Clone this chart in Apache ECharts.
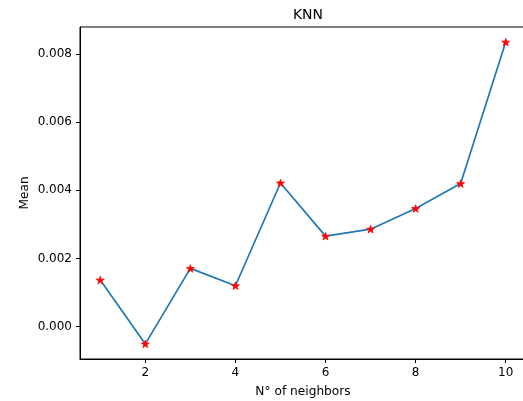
<!DOCTYPE html>
<html>
<head>
<meta charset="utf-8">
<script src="https://cdn.jsdelivr.net/npm/echarts@6/dist/echarts.min.js"></script>
<style>html,body{margin:0;padding:0;background:#fff;overflow:hidden;}#c{width:530px;height:401px;}</style>
</head>
<body>
<div id="c"></div>
<script>
const neighbors = [1, 2, 3, 4, 5, 6, 7, 8, 9, 10];
const meanValues = [0.001367, -0.000506, 0.001709, 0.0012, 0.004214, 0.002654, 0.002859, 0.003465, 0.004196, 0.008346];
const xTicks = [2, 4, 6, 8, 10];
const yTicks = [0, 0.002, 0.004, 0.006, 0.008];
const titleText = 'KNN';
const xLabel = 'N° of neighbors';
const yLabel = 'Mean';

const xMin = 0.55, xMax = 10.45;
const yMin = -0.000949, yMax = 0.008789;

const starPath = 'path://M0,-1 L0.2245,-0.309 L0.951,-0.309 L0.3633,0.118 L0.5878,0.809 L0,0.382 L-0.5878,0.809 L-0.3633,0.118 L-0.951,-0.309 L-0.2245,-0.309 Z';
const font = 'DejaVu Sans';

const chart = echarts.init(document.getElementById('c'), null, {renderer: 'canvas'});
chart.setOption({
  animation: false,
  backgroundColor: '#fff',
  title: {
    text: titleText, left: 303, top: 3, textAlign: 'center',
    textStyle: {fontFamily: font, fontSize: 14, fontWeight: 'normal', color: '#000'}
  },
  grid: {left: 80, top: 27, width: 446, height: 332, outerBoundsMode: 'none', show: true, borderColor: '#000', borderWidth: 1, backgroundColor: 'transparent'},
  xAxis: {
    type: 'value', min: xMin, max: xMax,
    name: xLabel, nameLocation: 'middle', nameGap: 27, nameMoveOverlap: false,
    nameTextStyle: {fontFamily: font, fontSize: 12.2, color: '#000'},
    axisLine: {show: true, onZero: false, lineStyle: {color: '#000', width: 1}},
    axisTick: {show: true, length: 4, customValues: xTicks, lineStyle: {color: '#000'}},
    axisLabel: {customValues: xTicks, margin: 8, fontFamily: font, fontSize: 12, color: '#000', formatter: v => String(v)},
    splitLine: {show: false}
  },
  yAxis: {
    type: 'value', min: yMin, max: yMax,
    name: yLabel, nameLocation: 'middle', nameGap: 49, nameMoveOverlap: false,
    nameTextStyle: {fontFamily: font, fontSize: 12.2, color: '#000'},
    axisLine: {show: true, onZero: false, lineStyle: {color: '#000', width: 1}},
    axisTick: {show: true, length: 4, customValues: yTicks, lineStyle: {color: '#000'}},
    axisLabel: {customValues: yTicks, margin: 8, fontFamily: font, fontSize: 12, color: '#000', formatter: v => v.toFixed(3)},
    splitLine: {show: false}
  },
  series: [{
    type: 'line',
    data: neighbors.map((x, i) => [x, meanValues[i]]),
    lineStyle: {color: '#1f77b4', width: 1.7},
    itemStyle: {color: 'red', borderColor: 'red', borderWidth: 0.8},
    symbol: starPath, symbolSize: 8, symbolKeepAspect: true,
    showSymbol: true, z: 3
  }]
});
</script>
</body>
</html>
